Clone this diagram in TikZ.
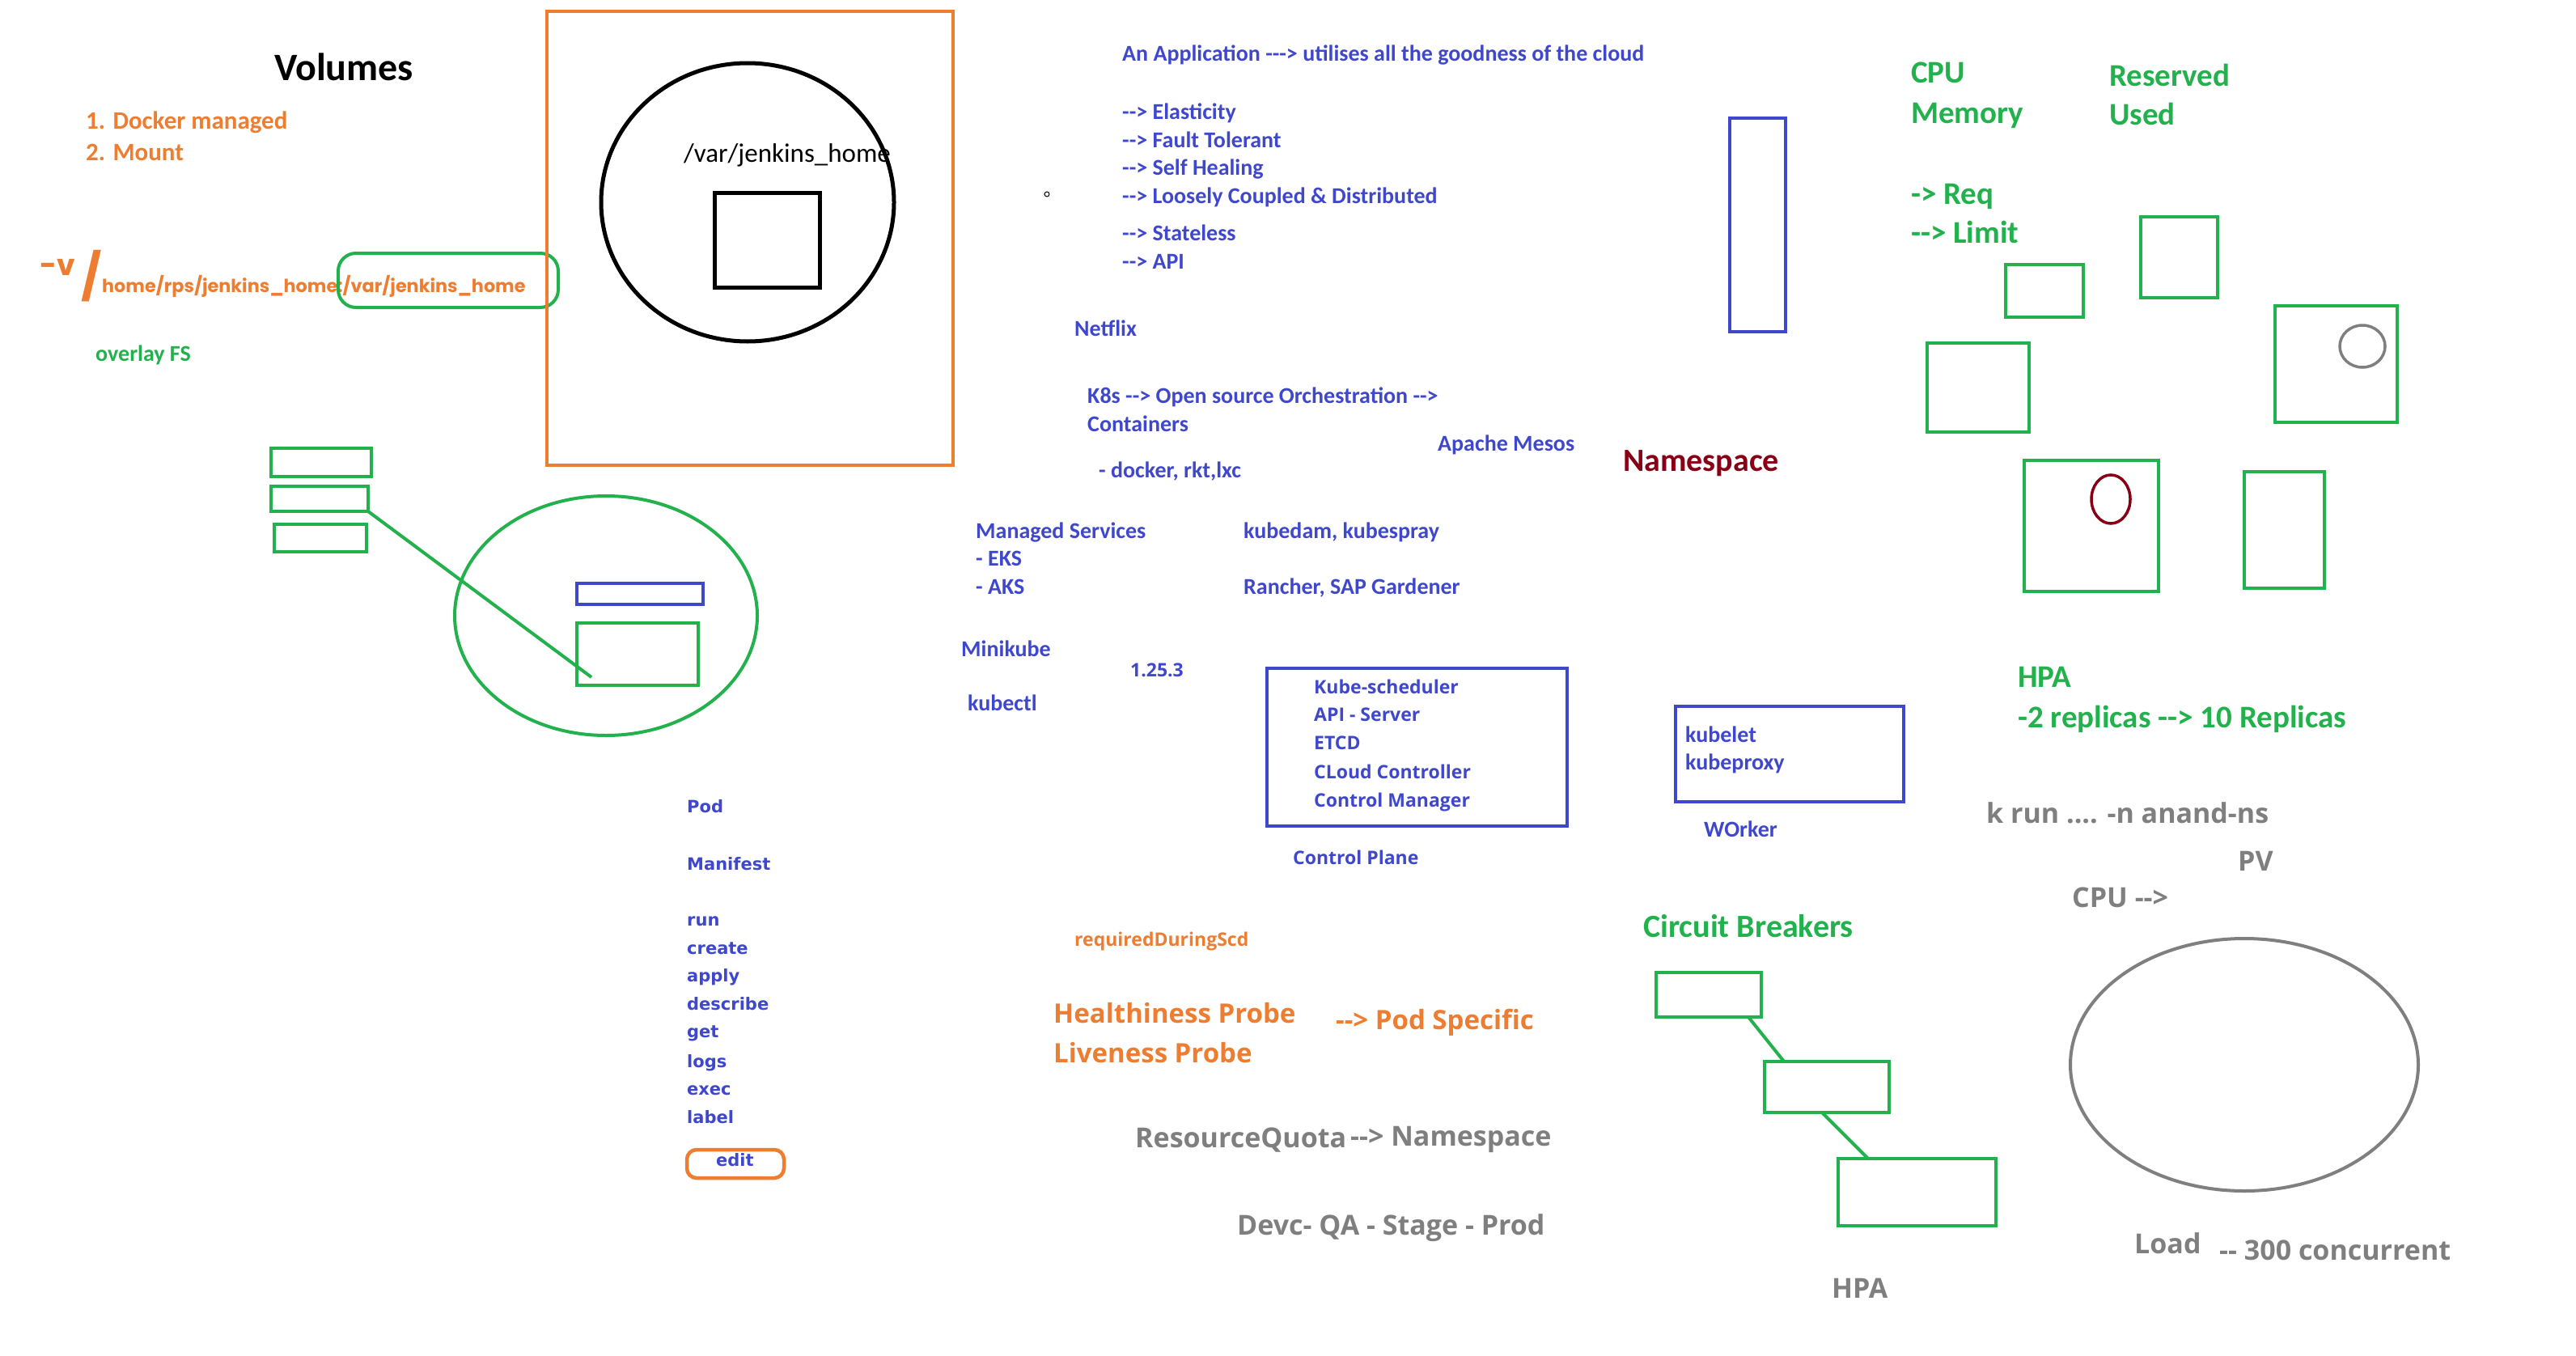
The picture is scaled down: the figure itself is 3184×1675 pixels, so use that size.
\documentclass[tikz,border=0pt]{standalone}
\usepackage{fontspec}
\setmainfont{Carlito}[Ligatures=TeXOff]
\newfontfamily\segoe{Open Sans}[Ligatures=TeXOff]
\newfontfamily\verd{DejaVu Sans}[Ligatures=TeXOff]
\newfontfamily\geo{Poppins}[Ligatures=TeXOff]
\newcommand{\fsz}[1]{\fontsize{#1}{#1}\selectfont}
\definecolor{pblue}{HTML}{3F48CC}
\definecolor{pgreen}{HTML}{22B14C}
\definecolor{porange}{HTML}{ED7D31}
\definecolor{pred}{HTML}{880015}
\definecolor{pgray}{HTML}{7F7F7F}
\begin{document}
\begin{tikzpicture}[x=1pt,y=-1pt,
  txt/.style={inner sep=0pt, anchor=base west},
  bl/.style={txt, text=pblue, font=\bfseries\fsz{28}},
  gr/.style={txt, text=pgreen, font=\bfseries\fsz{39}},
  gy/.style={txt, text=pgray, font=\segoe\bfseries\fsz{34}},
  cp/.style={txt, text=pblue, font=\segoe\bfseries\fsz{23}},
  pd/.style={txt, text=pblue, font=\verd\bfseries\fsz{21}},
  gbox/.style={draw=pgreen, line width=4.5pt, inner sep=0pt, outer sep=0pt}]

  \fill[white] (0,0) rectangle (3184,1675);
  \useasboundingbox (0,0) rectangle (3184,1675);

  % volumes
  \node[txt, anchor=base, font=\bfseries\fsz{48}] (vol) at (425,100) {Volumes};
  \node[txt, text=porange, font=\bfseries\fsz{31}] (dmg) at (106,159) {1. Docker managed};
  \node[txt, text=porange, font=\bfseries\fsz{31}] (mnt) at (106,198) {2. Mount};
  \node[txt, text=porange, font=\geo\bfseries\fsz{36}] (vflag) at (49,340) {-v};
  \node[txt, text=porange, font=\geo\bfseries\fsz{56}] (slash) at (100,362) {/};
  \node[txt, text=porange, font=\geo\bfseries\fsz{22.3}] (vpath) at (126,361) {home/rps/jenkins\_home:/var/jenkins\_home};
  \draw[pgreen, line width=4pt, rounded corners=22pt] (418,313) rectangle (690,380);
  \node[txt, text=pgreen, font=\bfseries\fsz{28}] (ovl) at (118,446) {overlay FS};

  \draw[porange, line width=4.5pt] (676,14) rectangle (1178,575);
  \draw[black, line width=5pt] (924,250) ellipse [x radius=181, y radius=172];
  \node[txt, font=\fsz{33}] (jhome) at (845,200) {/var/jenkins\_home};
  \draw[black, line width=5pt] (883,238) rectangle (1013,355);

  % pod sketch
  \node[gbox, minimum width=124, minimum height=35] (c1) at (397,571.5) {};
  \node[gbox, minimum width=120, minimum height=31] (c2) at (395,616.5) {};
  \node[gbox, minimum width=114, minimum height=34] (c3) at (396,665) {};
  \draw[pgreen, line width=4pt] (749,761) ellipse [x radius=187, y radius=148];
  \draw[pblue, line width=4.5pt] (713,721) rectangle (869,747);
  \draw[pgreen, line width=4.5pt] (713,770) rectangle (863,847);
  \coordinate (podend) at (731,837);
  \draw[pgreen, line width=4pt] (c2.south east) -- (podend);

  % cloud native
  \node[bl] (app) at (1387,76) {An Application ---> utilises all the goodness of the cloud};
  \node[bl] (el) at (1387,147) {--> Elasticity};
  \node[bl] (ft) at (1387,182) {--> Fault Tolerant};
  \node[bl] (sh) at (1387,216) {--> Self Healing};
  \node[bl] (lc) at (1387,251) {--> Loosely Coupled \& Distributed};
  \node[bl] (sl) at (1387,297) {--> Stateless};
  \node[bl] (api) at (1387,332) {--> API};
  \draw[black, line width=1pt] (1294,240) circle [radius=3];
  \node[bl] (nfx) at (1328,415) {Netflix};
  \node[bl] (k8s) at (1344,498) {K8s --> Open source Orchestration -->};
  \node[bl] (ctr) at (1344,533) {Containers};
  \node[bl] (mesos) at (1777,557) {Apache Mesos};
  \node[bl] (rt) at (1358,590) {- docker, rkt,lxc};
  \node[txt, text=pred, font=\bfseries\fsz{40}] (ns) at (2006,582) {Namespace};
  \node[bl] (msv) at (1206,665) {Managed Services};
  \node[bl] (eks) at (1206,699) {- EKS};
  \node[bl] (aks) at (1206,734) {- AKS};
  \node[bl] (kadm) at (1537,665) {kubedam, kubespray};
  \node[bl] (rnch) at (1537,734) {Rancher, SAP Gardener};
  \node[bl] (mk) at (1188,811) {Minikube};
  \node[bl] (kctl) at (1196,878) {kubectl};
  \node[cp] (ver) at (1397,836) {1.25.3};

  % control plane
  \draw[pblue, line width=4.5pt] (1566,826) rectangle (1937,1021);
  \node[cp] (ks) at (1624,857) {Kube-scheduler};
  \node[cp] (as) at (1624,891) {API - Server};
  \node[cp] (etcd) at (1624,926) {ETCD};
  \node[cp] (cc) at (1624,962) {CLoud Controller};
  \node[cp] (cm) at (1624,997) {Control Manager};
  \node[cp] (cpl) at (1598,1068) {Control Plane};

  % worker
  \draw[pblue, line width=4.5pt] (2071,873) rectangle (2353,991);
  \node[bl] (klet) at (2083,917) {kubelet};
  \node[bl] (kpx) at (2083,951) {kubeproxy};
  \node[bl] (wrk) at (2106,1034) {WOrker};
  \draw[pblue, line width=4.5pt] (2138,146) rectangle (2207,410);

  % resources
  \node[gr] (cpu) at (2362,103) {CPU};
  \node[gr] (mem) at (2362,152) {Memory};
  \node[gr] (rsv) at (2607,107) {Reserved};
  \node[gr] (used) at (2607,154) {Used};
  \node[gr] (req) at (2362,252) {-> Req};
  \node[gr] (lim) at (2362,300) {--> Limit};
  \draw[pgreen, line width=4.5pt] (2479,327) rectangle (2575,392);
  \draw[pgreen, line width=4.5pt] (2646,268) rectangle (2741,368);
  \draw[pgreen, line width=4.5pt] (2382,424) rectangle (2508,534);
  \draw[pgreen, line width=4.5pt] (2812,378) rectangle (2963,522);
  \draw[pgray, line width=3.5pt] (2920,428) ellipse [x radius=28, y radius=26];
  \draw[pgreen, line width=4.5pt] (2502,569) rectangle (2668,731);
  \draw[pred, line width=3.5pt] (2609,617) ellipse [x radius=24, y radius=30];
  \draw[pgreen, line width=4.5pt] (2774,583) rectangle (2873,727);
  \node[gr] (hpa) at (2494,849) {HPA};
  \node[gr] (rep) at (2494,899) {-2 replicas --> 10 Replicas};

  % load
  \node[gy] (krun) at (2455,1017) {k run .... -n anand-ns};
  \node[gy] (pv) at (2766,1076) {PV};
  \node[gy] (cpu2) at (2561,1121) {CPU -->};
  \draw[pgray, line width=4pt] (2774,1316) ellipse [x radius=215, y radius=156];
  \node[gy] (load) at (2638,1549) {Load};
  \node[gy] (conc) at (2743,1557) {-- 300 concurrent};
  \node[gy] (hpa2) at (2264,1604) {HPA};

  % circuit breakers
  \node[gr, font=\bfseries\fsz{40}] (cbt) at (2031,1158) {Circuit Breakers};
  \node[gbox, minimum width=130, minimum height=55] (cb1) at (2112,1229.5) {};
  \node[gbox, minimum width=154, minimum height=63] (cb2) at (2258,1343.5) {};
  \node[gbox, minimum width=195, minimum height=83] (cb3) at (2369.5,1473.5) {};
  \draw[pgreen, line width=4pt] ([xshift=-16pt]cb1.south east) -- ([xshift=24pt]cb2.north west);
  \draw[pgreen, line width=4pt] ([xshift=71pt]cb2.south west) -- ([xshift=37pt]cb3.north west);

  % probes
  \node[txt, text=porange, font=\segoe\bfseries\fsz{23}] (rds) at (1328,1169) {requiredDuringScd};
  \node[txt, text=porange, font=\segoe\bfseries\fsz{33}] (hp) at (1302,1264) {Healthiness Probe};
  \node[txt, text=porange, font=\segoe\bfseries\fsz{33}] (lp) at (1302,1313) {Liveness Probe};
  \node[txt, text=porange, font=\segoe\bfseries\fsz{33}] (psp) at (1651,1272) {--> Pod Specific};
  \node[txt, text=pgray, font=\segoe\bfseries\fsz{34}] (rq) at (1403,1418) {ResourceQuota};
  \node[txt, text=pgray, font=\segoe\bfseries\fsz{34}] (rqns) at (1669,1416) {--> Namespace};
  \node[txt, text=pgray, font=\segoe\bfseries\fsz{34}] (env) at (1529,1526) {Devc- QA - Stage - Prod};

  % pod commands
  \node[pd] (pod) at (849,1004) {Pod};
  \node[pd] (mf) at (849,1075) {Manifest};
  \node[pd] (run) at (849,1144) {run};
  \node[pd] (crt) at (849,1179) {create};
  \node[pd] (apl) at (849,1213) {apply};
  \node[pd] (dsc) at (849,1248) {describe};
  \node[pd] (get) at (849,1282) {get};
  \node[pd] (lgs) at (849,1319) {logs};
  \node[pd] (exe) at (849,1353) {exec};
  \node[pd] (lbl) at (849,1388) {label};
  \node[pd] (edt) at (885,1441) {edit};
  \draw[porange, line width=4.5pt, rounded corners=12pt] (849,1421) rectangle (969,1456);

\end{tikzpicture}
\end{document}
